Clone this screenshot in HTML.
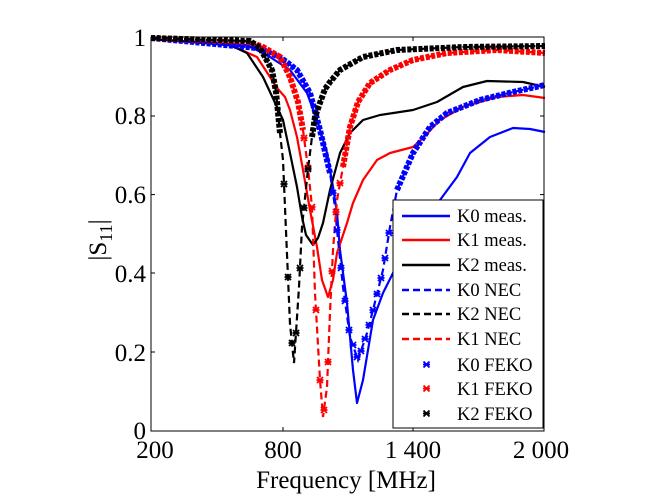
<!DOCTYPE html>
<html><head><meta charset="utf-8"><style>
html,body{margin:0;padding:0;background:#fff;}
svg{display:block;}
text{font-family:"Liberation Serif",serif;fill:#000;}
</style></head><body>
<svg width="672" height="504" viewBox="0 0 672 504" xmlns="http://www.w3.org/2000/svg">
<defs>
<path id="x" d="M-3,-3 l6,6 m0,-6 l-6,6 M-3.5,0 h7"/>
</defs>
<rect width="672" height="504" fill="#fff"/>
<g fill="none" stroke-width="2.2" stroke-linejoin="round">
<path stroke="#0000ff" d="M151,39 L213,43 L247,45 L270,57 L290,70 L307,93 L317,120 L327,153 L333,187 L337,213 L340,250 L347,303 L353,370 L357,403 L363,380 L373,320 L383,293 L393,273 L410,245 L425,222 L440,200 L457,177 L470,153 L490,137 L513,128 L530,129 L545,132"/>
<path stroke="#ff0000" d="M151,39 L230,45 L257,57 L270,77 L277,88 L285,97 L290,110 L297,137 L303,170 L310,210 L317,247 L322,280 L328,297 L333,280 L337,253 L347,223 L353,203 L363,180 L377,160 L390,153 L413,147 L423,138 L440,120 L463,107 L497,97 L523,95 L545,98"/>
<path stroke="#000" d="M151,39 L230,45 L247,53 L263,77 L277,107 L283,120 L290,153 L297,187 L302,217 L306,235 L313,245 L318,238 L323,223 L330,190 L340,153 L350,133 L363,120 L380,115 L413,110 L437,102 L463,87 L487,81 L523,82 L545,87"/>
</g>
<g fill="none" stroke-width="2.2" stroke-dasharray="7,4">
<path stroke="#0000ff" d="M151,38 L257,48 L280,57 L297,70 L310,93 L320,130 L330,173 L335,207 L337,230 L343,287 L350,337 L358,360 L367,333 L373,310 L383,270 L390,227 L397,190 L413,153 L430,127 L447,113 L480,100 L513,92 L545,85"/>
<path stroke="#ff0000" d="M151,38 L250,42 L263,47 L280,57 L290,77 L298,102 L303,130 L308,168 L312,207 L315,293 L320,380 L323,417 L327,387 L330,312 L333,250 L337,200 L343,167 L350,127 L358,102 L370,83 L390,70 L413,60 L447,53 L497,50 L545,53"/>
<path stroke="#000" d="M151,38 L250,41 L260,48 L272,70 L276,92 L280,133 L283,160 L286,231 L290,324 L294,363 L299,287 L302,227 L308,169 L312,137 L315,117 L321,100 L325,89 L330,82 L340,70 L363,57 L397,50 L463,47 L545,46"/>
</g>
<!-- FEKO marker bands (dense parts) -->
<g fill="none" stroke-width="6" stroke-dasharray="4,1.6" stroke-linejoin="round">
<path stroke="#0000ff" d="M151,38 L257,48 L280,57 L297,70 L310,93 L320,130 L330,173"/>
<path stroke="#0000ff" d="M397,190 L413,153 L430,127 L447,113 L480,100 L513,92 L545,85"/>
<path stroke="#ff0000" d="M151,38 L250,42 L263,47 L280,57 L290,77 L298,102 L303,130"/>
<path stroke="#ff0000" d="M343,167 L350,127 L358,102 L370,83 L390,70 L413,60 L447,53 L497,50 L545,53"/>
<path stroke="#000" d="M151,38 L250,41 L260,48 L272,70 L276,92 L280,133"/>
<path stroke="#000" d="M312,137 L315,117 L321,100 L325,89 L330,82 L340,70 L363,57 L397,50 L463,47 L545,46"/>
</g>
<!-- sparse markers in dips -->
<g fill="none" stroke-width="1.8">
<g stroke="#0000ff">
<use href="#x" x="333" y="193"/><use href="#x" x="337" y="230"/><use href="#x" x="341" y="268"/><use href="#x" x="345" y="301"/><use href="#x" x="349" y="330"/><use href="#x" x="353" y="345"/><use href="#x" x="357" y="357"/><use href="#x" x="361" y="351"/><use href="#x" x="365" y="339"/><use href="#x" x="369" y="325"/><use href="#x" x="373" y="310"/><use href="#x" x="377" y="294"/><use href="#x" x="381" y="278"/><use href="#x" x="385" y="258"/><use href="#x" x="389" y="233"/>
</g>
<g stroke="#ff0000">
<use href="#x" x="304" y="138"/><use href="#x" x="308" y="168"/><use href="#x" x="312" y="207"/><use href="#x" x="316" y="310"/><use href="#x" x="320" y="380"/><use href="#x" x="324" y="410"/><use href="#x" x="328" y="362"/><use href="#x" x="332" y="271"/><use href="#x" x="336" y="212"/><use href="#x" x="340" y="183"/>
</g>
<g stroke="#000">
<use href="#x" x="284" y="184"/><use href="#x" x="288" y="277"/><use href="#x" x="292" y="343"/><use href="#x" x="296" y="333"/><use href="#x" x="300" y="268"/><use href="#x" x="304" y="208"/><use href="#x" x="308" y="169"/>
</g>
</g>
<rect x="151" y="37" width="393" height="394" fill="none" stroke="#000" stroke-width="1"/>
<g stroke="#000" stroke-width="1">
<line x1="283" y1="431" x2="283" y2="427"/><line x1="413" y1="431" x2="413" y2="427"/>
<line x1="283" y1="37" x2="283" y2="41"/><line x1="413" y1="37" x2="413" y2="41"/>
<line x1="151" y1="352" x2="155" y2="352"/><line x1="151" y1="273" x2="155" y2="273"/><line x1="151" y1="194.6" x2="155" y2="194.6"/><line x1="151" y1="116" x2="155" y2="116"/>
<line x1="544" y1="352" x2="540" y2="352"/><line x1="544" y1="273" x2="540" y2="273"/><line x1="544" y1="194.6" x2="540" y2="194.6"/><line x1="544" y1="116" x2="540" y2="116"/>
</g>
<g font-size="25" text-anchor="end">
<text x="146" y="439">0</text><text x="146" y="361">0.2</text><text x="146" y="282">0.4</text><text x="146" y="203">0.6</text><text x="146" y="124">0.8</text><text x="146" y="46">1</text>
</g>
<g font-size="25" text-anchor="middle">
<text x="155" y="458">200</text><text x="283" y="458">800</text><text x="413" y="458">1 400</text><text x="541" y="458">2 000</text>
<text x="346" y="488">Frequency [MHz]</text>
</g>
<text transform="translate(106,240) rotate(-90)" font-size="25" text-anchor="middle">|S<tspan font-size="18" dy="6">11</tspan><tspan dy="-6">|</tspan></text>
<rect x="393" y="200" width="150" height="228" fill="#fff" stroke="#000" stroke-width="1"/>
<g stroke-width="2.4">
<line x1="402" y1="216" x2="450" y2="216" stroke="#0000ff"/>
<line x1="402" y1="240" x2="450" y2="240" stroke="#ff0000"/>
<line x1="402" y1="265" x2="450" y2="265" stroke="#000"/>
<line x1="402" y1="290" x2="450" y2="290" stroke="#0000ff" stroke-dasharray="7,4"/>
<line x1="402" y1="314" x2="450" y2="314" stroke="#000" stroke-dasharray="7,4"/>
<line x1="402" y1="339" x2="450" y2="339" stroke="#ff0000" stroke-dasharray="7,4"/>
</g>
<g stroke-width="1.8" fill="none">
<use href="#x" x="426.5" y="364.5" stroke="#0000ff"/>
<use href="#x" x="426.5" y="388.5" stroke="#ff0000"/>
<use href="#x" x="426.5" y="413.5" stroke="#000"/>
</g>
<g font-size="18.5">
<text x="457" y="222">K0 meas.</text><text x="457" y="246">K1 meas.</text><text x="457" y="271">K2 meas.</text>
<text x="457" y="296">K0 NEC</text><text x="457" y="320">K2 NEC</text><text x="457" y="345">K1 NEC</text>
<text x="457" y="371">K0 FEKO</text><text x="457" y="395">K1 FEKO</text><text x="457" y="420">K2 FEKO</text>
</g>
</svg>
</body></html>
